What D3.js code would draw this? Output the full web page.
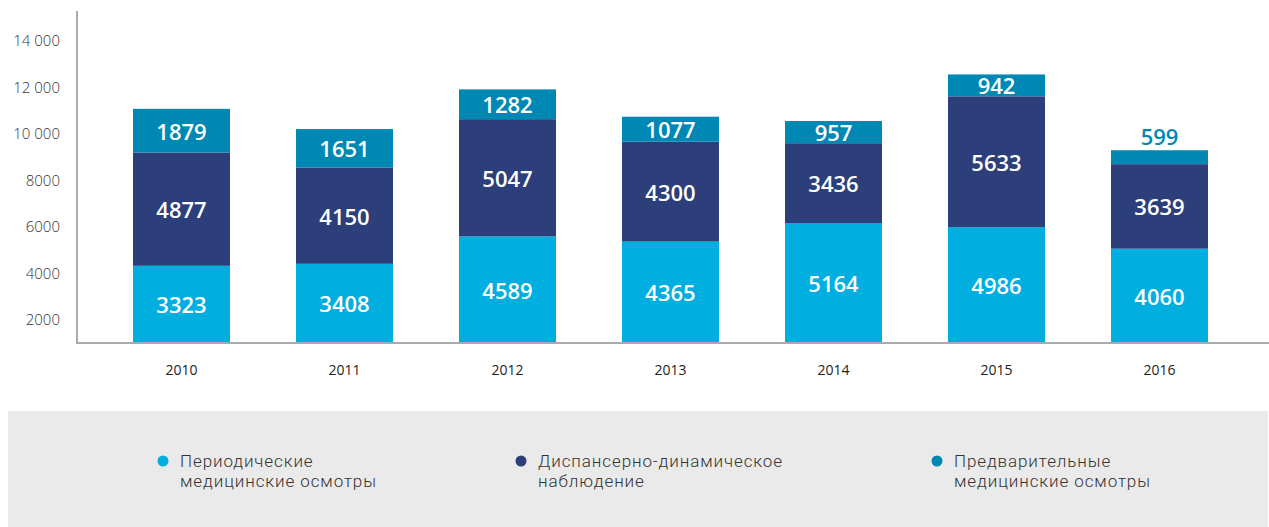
<!DOCTYPE html>
<html lang="ru">
<head>
<meta charset="utf-8">
<script src="https://cdn.jsdelivr.net/npm/d3@7"></script>
<style>
  html, body { margin: 0; padding: 0; background: #ffffff; }
  svg { display: block; }
  text { font-family: "Open Sans", "Noto Sans", sans-serif; }
</style>
</head>
<body>
<svg id="chart" width="1269" height="527"></svg>
<script>
// Осмотры по годам
const years = ["2010", "2011", "2012", "2013", "2014", "2015", "2016"];
const periodic = [3323, 3408, 4589, 4365, 5164, 4986, 4060];
const dispensary = [4877, 4150, 5047, 4300, 3436, 5633, 3639];
const preliminary = [1879, 1651, 1282, 1077, 957, 942, 599];
const yTicks = [2000, 4000, 6000, 8000, 10000, 12000, 14000];

const seriesNames = [
  ["Периодические", "медицинские осмотры"],
  ["Диспансерно-динамическое", "наблюдение"],
  ["Предварительные", "медицинские осмотры"]
];
const colors = ["#00aee0", "#2c3f7b", "#0088b4"];

const svg = d3.select("#chart");
const W = 1269;
const baseY = 343;
const axisX = 77;

const rows = years.map((yr, i) => ({
  year: yr,
  s0: periodic[i],
  s1: dispensary[i],
  s2: preliminary[i]
}));
const stack = d3.stack().keys(["s0", "s1", "s2"]);
const layers = stack(rows);

const x = d3.scaleBand()
  .domain(years)
  .range([100, 1241])
  .paddingInner(0.405)
  .paddingOuter(0.2025);

const y = d3.scaleLinear().domain([0, 13000]).range([baseY, 41]);
// Подписи шкалы сдвинуты на одно деление вверх относительно столбцов
const yAxisScale = d3.scaleLinear().domain([1000, 14000]).range([baseY, 41]);

const fmtTick = v => v >= 10000
  ? String(v).replace(/\B(?=(\d{3})+(?!\d))/g, "\u00a0")
  : String(v);

// Ось Y
const gy = svg.append("g")
  .attr("transform", `translate(${axisX},0)`)
  .call(d3.axisLeft(yAxisScale).tickValues(yTicks).tickSize(0).tickPadding(17).tickFormat(fmtTick));
gy.select(".domain").remove();
gy.selectAll("text")
  .attr("fill", "#333")
  .style("font-size", "15px")
  .style("font-weight", "300")
  .style("font-family", "'Open Sans', sans-serif");

// Столбцы
const g = svg.append("g");
layers.forEach((layer, li) => {
  g.selectAll(null)
    .data(layer)
    .enter()
    .append("rect")
    .attr("x", d => x(d.data.year))
    .attr("width", x.bandwidth())
    .attr("y", d => y(d[1]))
    .attr("height", d => y(d[0]) - y(d[1]))
    .attr("fill", colors[li]);
});

// Подписи значений
layers.forEach((layer, li) => {
  g.selectAll(null)
    .data(layer)
    .enter()
    .append("text")
    .each(function(d) {
      const h = y(d[0]) - y(d[1]);
      const inside = h >= 18;
      const cy = inside ? (y(d[0]) + y(d[1])) / 2 : y(d[1]) - 14;
      d3.select(this)
        .attr("x", x(d.data.year) + x.bandwidth() / 2)
        .attr("y", cy)
        .attr("fill", inside ? "#ffffff" : colors[li]);
    })
    .attr("text-anchor", "middle")
    .attr("dominant-baseline", "central")
    .style("font-size", "22px")
    .style("font-weight", "600")
    .text(d => d[1] - d[0]);
});

// Ось X
const gx = svg.append("g")
  .attr("transform", `translate(0,${baseY})`)
  .call(d3.axisBottom(x).tickSize(0).tickPadding(22));
gx.select(".domain").remove();
gx.selectAll("text")
  .attr("fill", "#222")
  .style("font-size", "14px")
  .style("font-family", "'Open Sans', sans-serif");

// Линии осей
svg.append("line")
  .attr("x1", axisX).attr("x2", axisX)
  .attr("y1", 11).attr("y2", baseY + 1)
  .attr("stroke", "#aaaaaa").attr("stroke-width", 2);
svg.append("line")
  .attr("x1", axisX - 1).attr("x2", W)
  .attr("y1", baseY).attr("y2", baseY)
  .attr("stroke", "#aaaaaa").attr("stroke-width", 2);

// Легенда
svg.append("rect")
  .attr("x", 8).attr("y", 411)
  .attr("width", W - 9).attr("height", 116)
  .attr("fill", "#eaeaea");

const legendX = [163, 521, 937];
const legend = svg.append("g");
seriesNames.forEach((lines, i) => {
  const item = legend.append("g").attr("transform", `translate(${legendX[i]},461)`);
  item.append("circle").attr("r", 5.5).attr("fill", colors[i]);
  lines.forEach((ln, k) => {
    item.append("text")
      .attr("x", 17)
      .attr("y", 6 + k * 20)
      .attr("fill", "#333")
      .style("font-family", "Roboto, sans-serif")
      .style("font-size", "17px")
      .style("font-weight", "300")
      .style("letter-spacing", "0.9px")
      .text(ln);
  });
});
</script>
</body>
</html>
